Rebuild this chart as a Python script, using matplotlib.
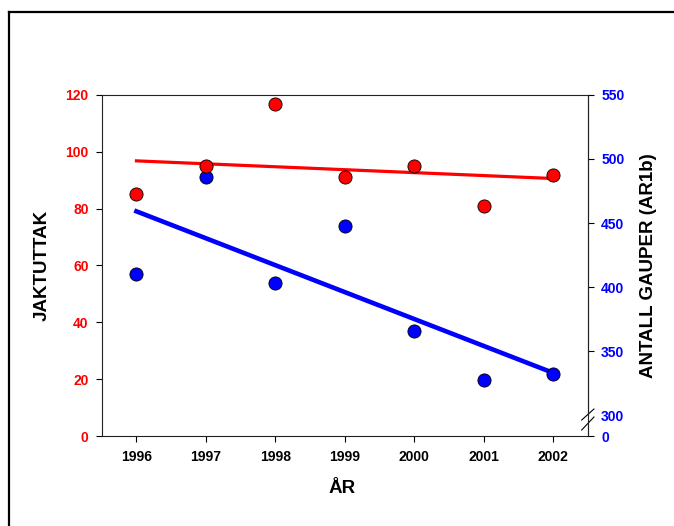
import numpy as np
import matplotlib.pyplot as plt
from matplotlib.lines import Line2D

plt.rcParams['font.family'] = ['Liberation Sans', 'DejaVu Sans']
plt.rcParams['font.weight'] = 'bold'

years = [1996, 1997, 1998, 1999, 2000, 2001, 2002]
jaktuttak = [85, 95, 117, 91, 95, 81, 92]
gauper = [410, 486, 403, 448, 366, 327, 332]

left_ticks = [0, 20, 40, 60, 80, 100, 120]
right_ticks = [300, 350, 400, 450, 500, 550]
right_bottom = 283.6  # value at the axis break bottom, labelled "0"

fig = plt.figure(figsize=(6.74, 5.26), dpi=100)
ax = fig.add_axes([0.1509, 0.1711, 0.7215, 0.6483])
ax2 = ax.twinx()

# regression lines
yr = np.array(years)
p1 = np.polyfit(yr, jaktuttak, 1)
p2 = np.polyfit(yr, gauper, 1)
xs = np.array([years[0], years[-1]])

ax2.plot(xs, np.polyval(p2, xs), color='#0000ff', lw=3.3, zorder=1)
ax2.scatter(years, gauper, s=90, color='#0000ff', edgecolor='black', linewidth=0.6, zorder=3)
ax.plot(xs, np.polyval(p1, xs), color='#ff0000', lw=2.3, zorder=1)
ax.scatter(years, jaktuttak, s=90, color='#ff0000', edgecolor='black', linewidth=0.6, zorder=3)

# red on top of blue
ax.set_zorder(ax2.get_zorder() + 1)
ax.patch.set_visible(False)

ax.set_xlim(1995.5, 2002.5)
ax.set_ylim(0, 120)
ax2.set_ylim(right_bottom, 550)

ax.set_xticks(years)
ax.set_yticks(left_ticks)
ax2.set_yticks([right_bottom] + right_ticks)
ax2.set_yticklabels(['0'] + [str(t) for t in right_ticks])

ax.tick_params(axis='x', direction='out', length=4, width=0.8, pad=6, labelsize=10)
ax.tick_params(axis='y', direction='out', length=4, width=0.8, pad=5.5, labelsize=10, labelcolor='#ff0000')
ax2.tick_params(axis='y', direction='out', length=4, width=0.8, pad=5.5, labelsize=10, labelcolor='#0000ff')
for lab in ax.get_xticklabels() + ax.get_yticklabels() + ax2.get_yticklabels():
    lab.set_fontweight('bold')
# the 300 tick sits in the break, no tick mark there
ax2.yaxis.get_major_ticks()[1].tick2line.set_visible(False)

for sp in ax.spines.values():
    sp.set_linewidth(0.8)
    sp.set_color('#222222')
for sp in ax2.spines.values():
    sp.set_visible(False)

# right spine with break
ax2.plot([1, 1], [0.0616, 1], transform=ax2.transAxes, color='#222222', lw=0.8, clip_on=False)
ax2.plot([1, 1], [0, 0.0323], transform=ax2.transAxes, color='#222222', lw=0.8, clip_on=False)
ax2.plot([0.987, 1.0123], [0.0469, 0.0792], transform=ax2.transAxes, color='black', lw=0.8, clip_on=False)
ax2.plot([0.987, 1.0123], [0.0176, 0.0557], transform=ax2.transAxes, color='black', lw=0.8, clip_on=False)

ax.set_xlabel('ÅR', fontsize=13.5, fontweight='bold')
ax.set_ylabel('JAKTUTTAK', fontsize=13.5, fontweight='bold')
ax2.set_ylabel('ANTALL GAUPER (AR1b)', fontsize=13.5, fontweight='bold')
ax.xaxis.set_label_coords(0.494, -0.1525)
ax.xaxis.label.set_va('center')
ax.yaxis.set_label_coords(-0.1234, 0.5)
ax.yaxis.label.set_va('center')
ax2.yaxis.set_label_coords(1.1234, 0.5)
ax2.yaxis.label.set_va('center')

# outer frame (only left and top edges visible)
fig.add_artist(Line2D([9 / 674, 9 / 674], [0, 1 - 12 / 526], color='black', lw=1.6))
fig.add_artist(Line2D([9 / 674, 1.01], [1 - 12 / 526, 1 - 12 / 526], color='black', lw=1.6))

fig.savefig('out.png', dpi=100)
